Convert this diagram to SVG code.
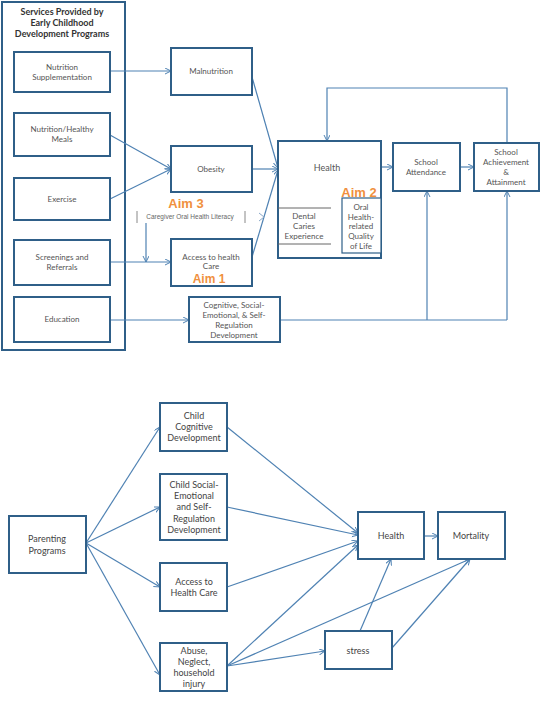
<svg xmlns="http://www.w3.org/2000/svg" width="543" height="714" viewBox="0 0 543 714">
<defs>
<marker id="ah" markerUnits="userSpaceOnUse" markerWidth="8" markerHeight="8" refX="6" refY="3" orient="auto">
<path d="M0,0 L6,3 L0,6" fill="none" stroke="#4f82b3" stroke-width="1"/>
</marker>
</defs>
<style>
.box{fill:#fff;stroke:#2f5f88;stroke-width:2}
.outer{fill:none;stroke:#2f5f88;stroke-width:2}
.thin{fill:#fff;stroke:#2f5f88;stroke-width:1.2}
.ln{fill:none;stroke:#4f82b3;stroke-width:1.2}
.la{fill:none;stroke:#4f82b3;stroke-width:1.2;marker-end:url(#ah)}
.t{font-family:Lato,'Liberation Sans',sans-serif;font-size:8px;fill:#555;text-anchor:middle}
.tb{font-family:Lato,'Liberation Sans',sans-serif;font-size:9px;fill:#333;text-anchor:middle;font-weight:bold}
.t2{font-family:Lato,'Liberation Sans',sans-serif;font-size:9px;fill:#444;text-anchor:middle}
.ts{font-family:'Liberation Sans',sans-serif;font-size:6.5px;fill:#666;text-anchor:middle}
.aim{font-family:'Liberation Sans',sans-serif;font-size:13px;font-weight:bold;fill:#f0903e;text-anchor:middle}
.gray{fill:none;stroke:#888;stroke-width:1}
</style>
<rect width="543" height="714" fill="#fff"/>

<g id="services">
<rect class="outer" x="2" y="2" width="123" height="348"/>
<text class="tb" x="62" y="15">Services Provided by</text>
<text class="tb" x="62" y="26">Early Childhood</text>
<text class="tb" x="62" y="37">Development Programs</text>
</g>

<g id="connectors">
<line class="la" x1="110" y1="71" x2="171" y2="71"/>
<line class="la" x1="110" y1="135" x2="171" y2="169"/>
<line class="la" x1="110" y1="199" x2="171" y2="169"/>
<line class="la" x1="110" y1="262" x2="171" y2="262"/>
<line class="la" x1="146" y1="223" x2="146" y2="262"/>
<line class="la" x1="110" y1="320" x2="189" y2="320"/>
<polyline class="ln" points="280,320 507,320"/>
<line class="la" x1="427" y1="320" x2="427" y2="191"/>
<line class="la" x1="507" y1="320" x2="507" y2="191"/>
<line class="la" x1="252" y1="77" x2="278" y2="168"/>
<line class="la" x1="252" y1="169" x2="278" y2="169"/>
<line class="la" x1="252" y1="257" x2="278" y2="170"/>
<path d="M259,213 L264,217 L259,221" fill="none" stroke="#8aa8c8" stroke-width="1"/>
<path d="M335,222 L340,226 L335,230" fill="none" stroke="#8aa8c8" stroke-width="1"/>
<line class="la" x1="381" y1="167" x2="393" y2="167"/>
<line class="la" x1="460" y1="167" x2="474" y2="167"/>
<polyline class="la" points="507,143 507,88 327,88 327,141"/>

<line class="la" x1="86" y1="543" x2="160" y2="427"/>
<line class="la" x1="86" y1="543" x2="160" y2="507"/>
<line class="la" x1="86" y1="543" x2="160" y2="587"/>
<line class="la" x1="86" y1="543" x2="160" y2="675"/>
<line class="la" x1="227" y1="427" x2="358" y2="533"/>
<line class="la" x1="227" y1="507" x2="358" y2="535"/>
<line class="la" x1="227" y1="587" x2="358" y2="541"/>
<line class="la" x1="227" y1="666" x2="358" y2="545"/>
<line class="la" x1="227" y1="666" x2="470" y2="559"/>
<line class="la" x1="227" y1="666" x2="325" y2="651"/>
<line class="la" x1="360" y1="631" x2="391" y2="559"/>
<line class="la" x1="392" y1="648" x2="470" y2="559"/>
<line class="la" x1="424" y1="536" x2="438" y2="536"/>
</g>

<g id="nutrition-supplementation">
<rect class="box" x="14" y="52" width="96" height="40"/>
<text class="t" x="62" y="70">Nutrition</text>
<text class="t" x="62" y="80">Supplementation</text>
</g>
<g id="nutrition-meals">
<rect class="box" x="14" y="113" width="96" height="43"/>
<text class="t" x="62" y="132">Nutrition/Healthy</text>
<text class="t" x="62" y="142">Meals</text>
</g>
<g id="exercise">
<rect class="box" x="14" y="178" width="96" height="42"/>
<text class="t" x="62" y="202">Exercise</text>
</g>
<g id="screenings">
<rect class="box" x="14" y="240" width="96" height="45"/>
<text class="t" x="62" y="260">Screenings and</text>
<text class="t" x="62" y="270">Referrals</text>
</g>
<g id="education">
<rect class="box" x="14" y="297" width="96" height="45"/>
<text class="t" x="62" y="322">Education</text>
</g>
<g id="malnutrition">
<rect class="box" x="171" y="48" width="81" height="47"/>
<text class="t" x="211" y="74">Malnutrition</text>
</g>
<g id="obesity">
<rect class="box" x="171" y="146" width="81" height="46"/>
<text class="t" x="211" y="172">Obesity</text>
</g>
<g id="aim3">
<text class="aim" x="186" y="208">Aim 3</text>
<line class="gray" x1="137" y1="211" x2="137" y2="223"/>
<line class="gray" x1="245" y1="211" x2="245" y2="223"/>
<text class="ts" x="190" y="219">Caregiver Oral Health Literacy</text>
</g>
<g id="access">
<rect class="box" x="171" y="239" width="81" height="47"/>
<text class="t" x="211" y="260">Access to health</text>
<text class="t" x="211" y="269">Care</text>
<text class="aim" x="209" y="283" style="font-size:12px">Aim 1</text>
</g>
<g id="cognitive">
<rect class="box" x="189" y="297" width="91" height="45"/>
<text class="t" x="234" y="308">Cognitive, Social-</text>
<text class="t" x="234" y="318">Emotional, &amp; Self-</text>
<text class="t" x="234" y="328">Regulation</text>
<text class="t" x="234" y="338">Development</text>
</g>
<g id="health">
<rect class="box" x="278" y="141" width="103" height="117"/>
<text class="t" x="327" y="171" style="font-size:9px">Health</text>
<line x1="278" y1="208" x2="331" y2="208" stroke="#666" stroke-width="1"/>
<line x1="278" y1="244" x2="331" y2="244" stroke="#666" stroke-width="1"/>
<text class="t" x="304" y="219">Dental</text>
<text class="t" x="304" y="229">Caries</text>
<text class="t" x="304" y="239">Experience</text>
<text class="aim" x="359" y="197">Aim 2</text>
</g>
<g id="oral-quality">
<rect class="thin" x="342" y="198" width="39" height="55"/>
<text class="t" x="361" y="210">Oral</text>
<text class="t" x="361" y="220">Health-</text>
<text class="t" x="361" y="229">related</text>
<text class="t" x="361" y="239">Quality</text>
<text class="t" x="361" y="249">of Life</text>
</g>
<g id="school-attendance">
<rect class="box" x="393" y="143" width="67" height="48"/>
<text class="t" x="426" y="165">School</text>
<text class="t" x="426" y="175">Attendance</text>
</g>
<g id="school-achievement">
<rect class="box" x="474" y="143" width="65" height="48"/>
<text class="t" x="506" y="155">School</text>
<text class="t" x="506" y="165">Achievement</text>
<text class="t" x="506" y="175">&amp;</text>
<text class="t" x="506" y="185">Attainment</text>
</g>

<g id="parenting">
<rect class="box" x="9" y="516" width="77" height="57"/>
<text class="t2" x="47" y="542">Parenting</text>
<text class="t2" x="47" y="554">Programs</text>
</g>
<g id="child-cognitive">
<rect class="box" x="160" y="403" width="67" height="48"/>
<text class="t2" x="194" y="419">Child</text>
<text class="t2" x="194" y="430">Cognitive</text>
<text class="t2" x="194" y="441">Development</text>
</g>
<g id="child-social">
<rect class="box" x="160" y="474" width="67" height="66"/>
<text class="t2" x="194" y="488">Child Social-</text>
<text class="t2" x="194" y="499">Emotional</text>
<text class="t2" x="194" y="510">and Self-</text>
<text class="t2" x="194" y="522">Regulation</text>
<text class="t2" x="194" y="533">Development</text>
</g>
<g id="access-health-care">
<rect class="box" x="160" y="563" width="67" height="48"/>
<text class="t2" x="194" y="585">Access to</text>
<text class="t2" x="194" y="596">Health Care</text>
</g>
<g id="abuse">
<rect class="box" x="160" y="643" width="67" height="48"/>
<text class="t2" x="194" y="654">Abuse,</text>
<text class="t2" x="194" y="665">Neglect,</text>
<text class="t2" x="194" y="676">household</text>
<text class="t2" x="194" y="687">injury</text>
</g>
<g id="health2">
<rect class="box" x="358" y="512" width="66" height="47"/>
<text class="t2" x="391" y="539">Health</text>
</g>
<g id="mortality">
<rect class="box" x="438" y="512" width="67" height="47"/>
<text class="t2" x="471" y="539">Mortality</text>
</g>
<g id="stress">
<rect class="box" x="325" y="631" width="67" height="38"/>
<text class="t2" x="358" y="654">stress</text>
</g>
</svg>
